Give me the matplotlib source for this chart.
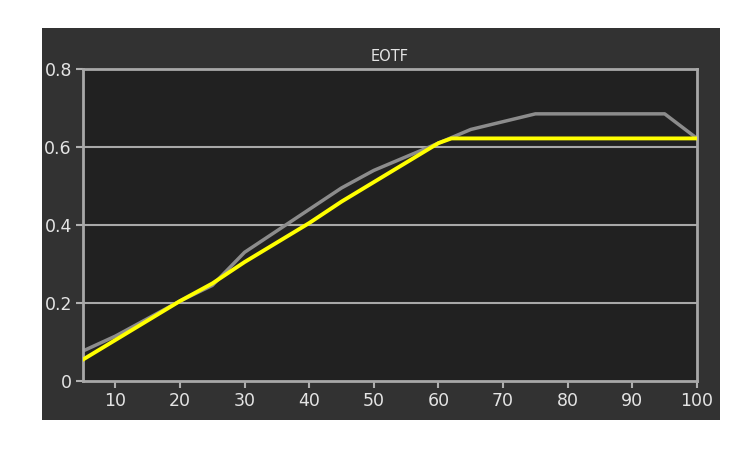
import matplotlib.pyplot as plt
from matplotlib.patches import Rectangle

# EOTF measurement vs target
stimulus = [5, 10, 15, 20, 25, 30, 35, 40, 45, 50, 55, 60, 65, 70, 75, 80, 85, 90, 95, 100]
measured = [0.077, 0.115, 0.16, 0.205, 0.245, 0.33, 0.385, 0.44, 0.495, 0.54,
            0.575, 0.61, 0.645, 0.665, 0.685, 0.685, 0.685, 0.685, 0.685, 0.622]

target_x = [5, 10, 15, 20, 25, 30, 35, 40, 45, 50, 55, 60, 62, 65, 70, 75, 80, 85, 90, 95, 100]
target = [0.055, 0.105, 0.155, 0.205, 0.25, 0.305, 0.355, 0.405, 0.46, 0.51, 0.56,
          0.61, 0.622, 0.622, 0.622, 0.622, 0.622, 0.622, 0.622, 0.622, 0.622]

xticks = [10, 20, 30, 40, 50, 60, 70, 80, 90, 100]
yticks = [0, 0.2, 0.4, 0.6, 0.8]
ytick_labels = ['0', '0.2', '0.4', '0.6', '0.8']

fig = plt.figure(figsize=(7.5, 4.53), dpi=100)
fig.patch.set_facecolor('white')
fig.patches.append(Rectangle((42 / 750, 1 - 420 / 453), 678 / 750, 392 / 453,
                             transform=fig.transFigure, facecolor='#323232',
                             edgecolor='none', zorder=-1))

ax = fig.add_axes([83 / 750, 1 - 381 / 453, 614 / 750, 312 / 453])
ax.set_zorder(1)
ax.set_facecolor('#212121')

for y in [0.2, 0.4, 0.6]:
    ax.axhline(y, color='#a8a8a8', lw=1.5, zorder=1)

ax.plot(stimulus, measured, color='#8c8c8c', lw=2.5, zorder=2)
ax.plot(target_x, target, color='#ffff00', lw=2.8, zorder=3)

ax.set_xlim(5, 100)
ax.set_ylim(0, 0.8)
ax.set_xticks(xticks)
ax.set_yticks(yticks)
ax.set_yticklabels(ytick_labels)
ax.tick_params(colors='#b0b0b0', labelcolor='#e4e4e4', labelsize=12.5,
               length=5, width=1.5, pad=3)
for s in ax.spines.values():
    s.set_color('#a8a8a8')
    s.set_linewidth(2)

ax.set_title('EOTF', color='#e4e4e4', fontsize=10.5, pad=6)

fig.savefig('out.png', dpi=100)
